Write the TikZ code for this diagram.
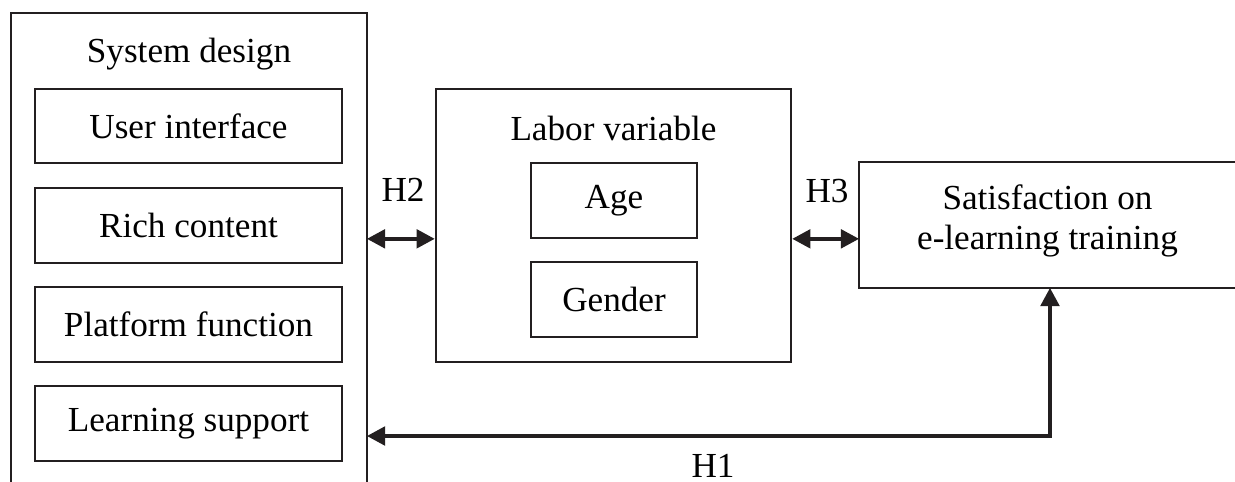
\documentclass[tikz,border=0pt]{standalone}
\usepackage{fontspec}
\setmainfont{Liberation Serif}
\usetikzlibrary{arrows.meta}
\definecolor{ink}{RGB}{35,31,32}

\begin{document}
\begin{tikzpicture}[x=0.01cm,y=-0.01cm,
  box/.style={draw=ink,line width=0.6pt,minimum width=3.07cm,minimum height=0.745cm,inner sep=0pt,font=\fontsize{10}{12}\selectfont},
  lbl/.style={inner sep=0pt,font=\fontsize{10}{12}\selectfont},
  link/.style={draw=ink,line width=1.2pt,{Triangle[length=5.2pt,width=5.2pt]}-{Triangle[length=5.2pt,width=5.2pt]}}]
\useasboundingbox (0,0) rectangle (1235,481);
% system design, open at the bottom
\node[minimum width=3.54cm,minimum height=4.8cm,inner sep=0pt] (sys) at (189,254) {};
\draw[ink,line width=0.6pt] (sys.south west) -- (sys.north west) -- (sys.north east) -- (sys.south east);
\node[lbl,anchor=base] (sysT) at (189,62) {System design};
\node[box] (ui) at (188.5,126) {User interface};
\node[box] (rich) at (188.5,225.5) {Rich content};
\node[box] (plat) at (188.5,324.5) {Platform function};
\node[box] (learn) at (188.5,423.5) {Learning support};
% labor variable
\node[draw=ink,line width=0.6pt,minimum width=3.55cm,minimum height=2.73cm,inner sep=0pt] (lab) at (613.5,225.5) {};
\node[lbl,anchor=base] (labT) at (613.5,140) {Labor variable};
\node[box,minimum width=1.66cm] (age) at (614,200.5) {Age};
\node[box,minimum width=1.66cm] (gen) at (614,299.5) {Gender};
% satisfaction, open at the right
\node[minimum width=3.75cm,minimum height=1.24cm,inner sep=0pt] (sat) at (1047.5,225) {};
\draw[ink,line width=0.6pt] (sat.north east) -- (sat.north west) -- (sat.south west) -- (sat.south east);
\node[lbl,align=center,font=\fontsize{10}{11.4}\selectfont] (satT) at (1047.5,221) {Satisfaction on\\e-learning training};
% hypotheses
\draw[link] (sys.east |- age.south) -- (lab.west |- age.south);
\draw[link] (lab.east |- age.south) -- (sat.west |- age.south);
\coordinate (bend) at (1050,436);
\draw[link] (sys.east |- bend) -- (bend) -- (bend |- sat.south);
\node[lbl] (h2) at (403,190) {H2};
\node[lbl] (h3) at (827,191) {H3};
\node[lbl,anchor=base] (h1) at (713,477) {H1};
\end{tikzpicture}
\end{document}
